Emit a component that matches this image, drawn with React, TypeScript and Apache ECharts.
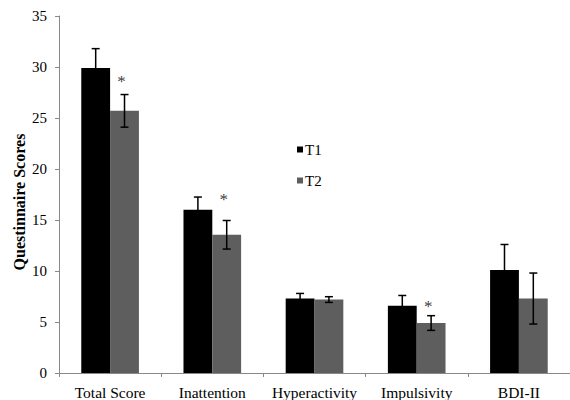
import React, { useEffect, useRef } from "react";
import * as echarts from "echarts";

const categories = ["Total Score", "Inattention", "Hyperactivity", "Impulsivity", "BDI-II"];
const t1Means = [29.9, 16.0, 7.3, 6.6, 10.1];
const t1Err = [1.9, 1.25, 0.5, 1.0, 2.5];
const t2Means = [25.7, 13.55, 7.2, 4.9, 7.3];
const t2Err = [1.6, 1.4, 0.28, 0.72, 2.5];
// significance markers: category index and the value level where the asterisk sits
const sigCats = [0, 1, 3];
const sigLevels = [28.9, 17.3, 6.86];

const FONT = "Liberation Serif";
const BAR_FRAC = 0.282;

export default function App() {
  const ref = useRef<HTMLDivElement>(null);
  useEffect(() => {
    if (!ref.current) return;
    const chart = echarts.init(ref.current, null, { renderer: "svg" });

    const errRender = (side: number) => (params: any, api: any) => {
      const idx = api.value(0);
      const lo = api.value(1);
      const hi = api.value(2);
      const band = api.size([1, 0])[0];
      const off = side * band * BAR_FRAC * 0.5;
      const pLo = api.coord([idx, lo]);
      const pHi = api.coord([idx, hi]);
      const x = pLo[0] + off;
      const cap = 4;
      const style = { stroke: "#000", lineWidth: 1.5 };
      return {
        type: "group",
        children: [
          { type: "line", shape: { x1: x, y1: pLo[1], x2: x, y2: pHi[1] }, style },
          { type: "line", shape: { x1: x - cap, y1: pHi[1], x2: x + cap, y2: pHi[1] }, style },
          { type: "line", shape: { x1: x - cap, y1: pLo[1], x2: x + cap, y2: pLo[1] }, style },
        ],
      };
    };

    chart.setOption({
      animation: false,
      backgroundColor: "#fff",
      grid: { left: 59, right: -12.5, top: 16, bottom: 26 },
      legend: {
        orient: "vertical",
        left: 292,
        top: 137,
        itemWidth: 6,
        itemHeight: 6,
        itemGap: 16,
        icon: "rect",
        data: ["T1", "T2"],
        textStyle: { fontFamily: FONT, fontSize: 15, color: "#000", padding: [0, 0, 0, -3] },
      },
      graphic: [
        {
          type: "text",
          x: 19,
          y: 202,
          rotation: Math.PI / 2,
          style: {
            text: "Questinnaire Scores",
            fontFamily: FONT,
            fontSize: 16,
            fontWeight: "bold",
            fill: "#000",
            align: "center",
            verticalAlign: "middle",
          },
        },
      ],
      xAxis: {
        type: "category",
        data: categories,
        axisLine: { lineStyle: { color: "#888", width: 1 } },
        axisTick: { show: true, length: 4, lineStyle: { color: "#888" } },
        axisLabel: { fontFamily: FONT, fontSize: 15.5, color: "#000", margin: 11, interval: 0 },
      },
      yAxis: {
        type: "value",
        min: 0,
        max: 35,
        interval: 5,
        splitLine: { show: false },
        axisLine: { show: true, lineStyle: { color: "#888", width: 1 } },
        axisTick: { show: true, length: 4, lineStyle: { color: "#888" } },
        axisLabel: { fontFamily: FONT, fontSize: 15, color: "#000", margin: 12 },
      },
      series: [
        {
          name: "T1",
          type: "bar",
          data: t1Means,
          barWidth: BAR_FRAC * 100 + "%",
          barGap: "0%",
          itemStyle: { color: "#000000" },
        },
        {
          name: "T2",
          type: "bar",
          data: t2Means,
          barWidth: BAR_FRAC * 100 + "%",
          barGap: "0%",
          itemStyle: { color: "#5e5e5e" },
        },
        {
          type: "custom",
          renderItem: errRender(-1),
          data: t1Means.map((m, i) => [i, m - t1Err[i], m + t1Err[i]]),
          z: 10,
          itemStyle: { color: "#000" },
          encode: { x: 0, y: [1, 2] },
        },
        {
          type: "custom",
          renderItem: errRender(1),
          data: t2Means.map((m, i) => [i, m - t2Err[i], m + t2Err[i]]),
          z: 10,
          itemStyle: { color: "#000" },
          encode: { x: 0, y: [1, 2] },
        },
        {
          type: "scatter",
          data: sigCats.map((c, i) => [c, sigLevels[i]]),
          symbolSize: 0,
          itemStyle: { color: "#000" },
          z: 10,
          label: {
            show: true,
            position: "inside",
            formatter: "*",
            offset: [11.5, 3],
            fontFamily: FONT,
            fontSize: 17,
            color: "#000",
          },
        },
      ],
    });
    return () => chart.dispose();
  }, []);
  return (
    <div
      ref={ref}
      style={{ position: "fixed", left: 0, top: 0, width: 570, height: 400, background: "#fff" }}
    />
  );
}
